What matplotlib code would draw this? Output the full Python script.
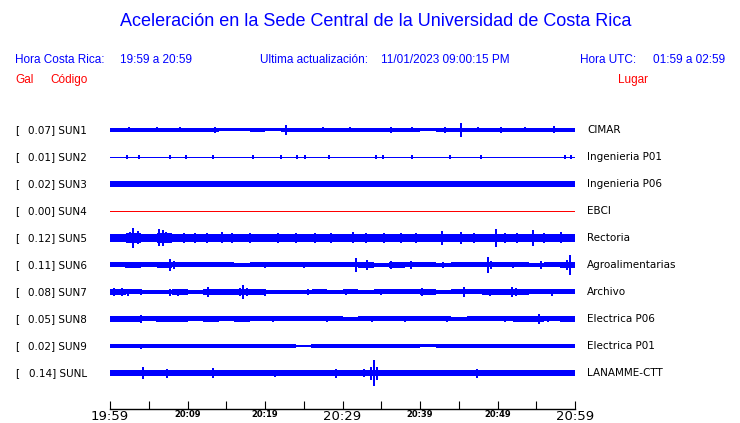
import numpy as np
import matplotlib.pyplot as plt

# station info
codes = ['SUN1', 'SUN2', 'SUN3', 'SUN4', 'SUN5', 'SUN6', 'SUN7', 'SUN8', 'SUN9', 'SUNL']
peaks = ['0.07', '0.01', '0.02', '0.00', '0.12', '0.11', '0.08', '0.05', '0.02', '0.14']
places = ['CIMAR', 'Ingenieria P01', 'Ingenieria P06', 'EBCI', 'Rectoria',
          'Agroalimentarias', 'Archivo', 'Electrica P06', 'Electrica P01', 'LANAMME-CTT']
trace_colors = ['blue', 'blue', 'blue', 'red', 'blue', 'blue', 'blue', 'blue', 'blue', 'blue']

# time axis (minutes after 19:59)
tick_minutes = [0, 10, 20, 30, 40, 50, 60]
tick_labels = ['19:59', '20:09', '20:19', '20:29', '20:39', '20:49', '20:59']
big_ticks = ['19:59', '20:29', '20:59']

# background envelope (half-width in pixels), equal bins over the hour
levels = [
    [1.5, 1.4, 1.5, 1.4, 1.5, 1.5, 1.4, 1.0, 1.0, 1.2, 1.0, 1.5, 1.4, 1.3, 1.4,
     1.3, 1.2, 1.5, 1.5, 1.4, 1.0, 1.3, 1.4, 1.4, 1.3, 1.5, 1.3, 1.3, 1.4, 1.5],
    [0.0, 0.0, 0.0, 0.0, 0.0, 0.0],
    [2.2, 2.2, 2.1, 2.1, 2.1, 2.1, 2.1, 2.1, 2.1, 2.1, 2.1, 2.1, 2.1, 2.1, 2.1,
     2.1, 2.1, 2.1, 2.1, 2.1, 2.1, 2.1, 2.1, 2.1, 2.1, 2.1, 2.1, 2.1, 2.2, 2.2],
    [0.0, 0.0],
    [3.3, 4.3, 3.6, 4.8, 3.6, 3.4, 3.6, 3.4, 3.4, 3.3, 3.4, 3.3, 3.3, 3.3, 3.3,
     3.4, 3.3, 3.4, 3.3, 3.3, 3.3, 3.4, 3.3, 3.3, 3.4, 3.3, 3.3, 3.6, 3.3, 3.4],
    [2.0, 2.2, 2.0, 2.2, 2.0, 2.0, 2.0, 2.0, 1.8, 2.0, 2.0, 2.0, 2.0, 2.0, 2.0,
     2.0, 2.2, 1.6, 2.2, 2.0, 2.0, 1.8, 2.0, 2.0, 2.0, 2.0, 2.0, 1.8, 2.0, 2.2],
    [2.6, 2.0, 1.9, 1.9, 2.4, 1.9, 2.2, 2.4, 2.2, 2.4, 1.9, 1.9, 1.9, 2.0, 1.9,
     2.0, 1.9, 2.0, 2.0, 2.0, 2.2, 1.9, 2.0, 2.0, 2.2, 2.2, 2.2, 2.0, 2.0, 2.0],
    [2.2, 2.4, 2.0, 2.2, 2.2, 2.0, 2.2, 2.0, 2.2, 2.0, 2.0, 2.0, 2.0, 2.0, 2.0,
     1.8, 2.0, 2.0, 2.0, 2.0, 2.0, 2.0, 1.8, 2.0, 2.0, 2.0, 2.2, 2.2, 2.0, 2.2],
    [1.2, 1.4, 1.4, 1.2, 1.2, 1.4, 1.2, 1.4, 1.2, 1.2, 1.4, 1.2, 0.8, 1.2, 1.4,
     1.4, 1.2, 1.2, 1.4, 1.2, 1.0, 1.2, 1.4, 1.2, 1.2, 1.4, 1.4, 1.2, 1.2, 1.2],
    [2.0, 2.0, 2.2, 2.0, 2.0, 2.0, 2.0, 2.0, 2.0, 2.0, 2.0, 2.0, 2.0, 2.0, 2.0,
     2.0, 2.0, 2.2, 2.0, 2.0, 2.0, 2.0, 2.0, 2.2, 2.0, 2.0, 2.0, 2.0, 2.2, 2.2],
]

# individual bursts: (minute, half-height in pixels)
spikes = [
    [(22.7, 4.3), (45.3, 6.3), (57.3, 3.0), (13.5, 2.5), (36.3, 2.5), (43.2, 2.5),
     (50.4, 2.2), (6.0, 2.0), (27.5, 2.0), (2.5, 2.0), (9.0, 2.0), (31.0, 2.0),
     (39.0, 2.0), (47.5, 2.0), (53.5, 2.0)],
    [(2.2, 1.5), (3.8, 1.8), (7.7, 1.8), (9.8, 1.2), (13.3, 1.2), (18.5, 1.2),
     (22.0, 1.2), (24.1, 1.2), (25.2, 1.5), (28.2, 1.2), (34.3, 1.8), (35.2, 1.5),
     (39.0, 1.2), (43.9, 1.2), (47.9, 1.8), (58.7, 1.2), (59.5, 1.8)],
    [(3.9, 2.8), (8.9, 2.8), (14.0, 2.8), (15.7, 2.8), (18.6, 2.8), (22.1, 2.8),
     (24.8, 2.8), (25.3, 2.8), (28.2, 2.8), (28.9, 2.8), (30.0, 2.8), (32.2, 2.8),
     (34.3, 2.8), (35.8, 2.8), (47.9, 2.8), (49.9, 2.8), (52.1, 2.8), (55.0, 2.8)],
    [],
    [(3.0, 9.5), (2.6, 5.0), (3.6, 6.0), (6.3, 8.0), (6.8, 7.5), (7.2, 5.0),
     (21.7, 4.7), (31.3, 5.0), (35.4, 4.5), (37.6, 4.5), (42.8, 6.5), (45.3, 5.3),
     (49.8, 8.3), (51.0, 4.5), (54.6, 7.3), (58.2, 5.0), (9.5, 4.5), (11.0, 4.8),
     (12.5, 4.5), (14.5, 5.0), (15.8, 4.8), (26.5, 4.5), (28.5, 4.3), (39.5, 4.3),
     (56.0, 4.5), (18.0, 4.3), (24.0, 4.3), (33.0, 4.3), (47.0, 4.5), (52.5, 4.5)],
    [(2.0, 2.8), (7.7, 6.0), (8.3, 3.5), (31.7, 6.7), (33.2, 4.0), (36.3, 3.0),
     (38.8, 3.5), (48.8, 7.0), (49.2, 3.5), (55.6, 3.0), (59.3, 9.5), (59.0, 5.0),
     (20.0, 2.8), (25.0, 2.8), (43.0, 2.8), (52.0, 2.8)],
    [(0.5, 3.2), (1.5, 3.4), (2.3, 3.0), (4.0, 2.8), (12.6, 4.0), (17.2, 6.2),
     (16.8, 3.5), (17.7, 3.5), (20.0, 3.0), (7.7, 3.0), (8.8, 3.0), (9.5, 2.8),
     (25.5, 2.8), (35.0, 2.8), (40.2, 3.2), (45.7, 4.0), (51.9, 5.0), (52.4, 3.2),
     (49.0, 3.0), (57.0, 3.0), (30.5, 2.8)],
    [(4.0, 3.5), (3.0, 2.8), (6.0, 2.8), (9.0, 2.8), (16.5, 2.7), (21.0, 2.8),
     (28.0, 2.7), (33.8, 2.8), (38.0, 2.8), (43.5, 2.7), (51.0, 2.8), (55.4, 4.5),
     (56.5, 2.8)],
    [(4.0, 2.0), (10.0, 1.7), (16.0, 1.6), (26.0, 1.7), (36.0, 1.6), (46.0, 1.6),
     (56.0, 1.6)],
    [(4.2, 5.3), (7.4, 4.0), (13.3, 4.5), (21.3, 3.0), (29.1, 4.0), (32.8, 3.5),
     (34.0, 12.0), (33.7, 6.0), (34.4, 6.0), (47.4, 4.0), (0.7, 2.7), (2.4, 2.7),
     (3.7, 2.7), (6.3, 2.7), (9.6, 2.7), (12.0, 2.7), (19.6, 2.7), (25.2, 2.7),
     (28.2, 2.7), (31.3, 2.7), (37.6, 2.7), (38.7, 2.7), (45.3, 2.7), (55.4, 2.7),
     (56.9, 2.7)],
]

W, H = 740, 423
fig = plt.figure(figsize=(W / 100, H / 100), dpi=100)

# axes spans pixel x 110..575, y 115..409 ; rows every 27 px starting at y=130
ax = fig.add_axes([110 / W, (H - 409) / H, 465 / W, (409 - 115) / H])
ax.set_xlim(0, 60)
ax.set_ylim(-(409 - 130) / 27, (130 - 115) / 27)
px = 1 / 27
edge = 0.5  # extra half pixel so the aliased fill is not rounded away

for i in range(len(codes)):
    c = -i
    col = trace_colors[i]
    ax.plot([0, 60], [c, c], color=col, lw=0.6, antialiased=False)
    lv = np.array(levels[i] + [levels[i][-1]])
    if lv.max() > 0:
        lev = (lv + edge) * px
        edges = np.linspace(0, 60, len(levels[i]) + 1)
        ax.fill_between(edges, c - lev, c + lev, step='post', color=col, lw=0,
                        antialiased=False)
    if spikes[i]:
        ts = [s[0] for s in spikes[i]]
        hs = (np.array([s[1] for s in spikes[i]]) + edge) * px
        ax.vlines(ts, c - hs, c + hs, color=col, lw=1.3, antialiased=False)

for s in ['left', 'top', 'right']:
    ax.spines[s].set_visible(False)
ax.spines['bottom'].set_linewidth(1.0)
ax.set_yticks([])
ax.set_xticks(np.arange(0, 61, 5), minor=True)
ax.set_xticks(tick_minutes)
ax.set_xticklabels(tick_labels)
ax.tick_params(axis='x', which='both', direction='in', length=6, width=0.8, pad=1)
for lab in ax.get_xticklabels():
    if lab.get_text() in big_ticks:
        lab.set_fontsize(9.5)
    else:
        lab.set_fontsize(6)
        lab.set_fontweight('bold')
    lab.set_verticalalignment('top')


def ptext(x, y, s, **kw):
    kw.setdefault('va', 'center')
    return fig.text(x / W, 1 - y / H, s, **kw)


hfont = 'Liberation Sans'
ptext(376, 22, 'Aceleración en la Sede Central de la Universidad de Costa Rica',
      ha='center', color='blue', fontsize=13, family=hfont)
ptext(15, 60, 'Hora Costa Rica:', color='blue', fontsize=8.5, family=hfont)
ptext(120, 60, '19:59 a 20:59', color='blue', fontsize=8.5, family=hfont)
ptext(260, 60, 'Ultima actualización:', color='blue', fontsize=8.5, family=hfont)
ptext(381, 60, '11/01/2023 09:00:15 PM', color='blue', fontsize=8.5, family=hfont)
ptext(580, 60, 'Hora UTC:', color='blue', fontsize=8.5, family=hfont)
ptext(725, 60, '01:59 a 02:59', ha='right', color='blue', fontsize=8.5, family=hfont)
ptext(15, 80, 'Gal', color='red', fontsize=8.5, family=hfont)
ptext(50, 80, 'Código', color='red', fontsize=8.5, family=hfont)
ptext(648, 80, 'Lugar', ha='right', color='red', fontsize=8.5, family=hfont)

for i in range(len(codes)):
    y = 130 + 27 * i
    ptext(15, y, '[', fontsize=7.5)
    ptext(87, y, peaks[i] + '] ' + codes[i], ha='right', fontsize=7.5)
    ptext(587, y, places[i], fontsize=7.5)

plt.savefig('out.png', dpi=100)
